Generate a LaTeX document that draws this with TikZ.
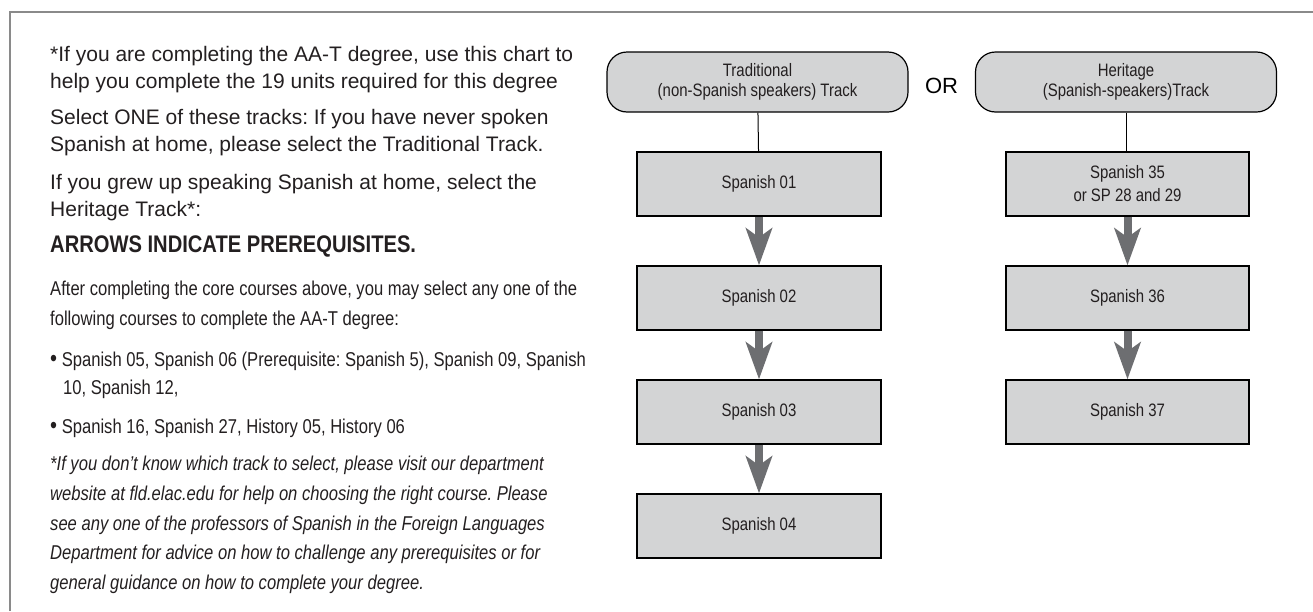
\documentclass[tikz,border=0pt]{standalone}
\usepackage{fontspec}
\setmainfont{Liberation Sans}
\newfontfamily\condf[FakeStretch=0.83]{Liberation Sans}
\newfontfamily\condbf[FakeStretch=0.84]{Liberation Sans}
\usetikzlibrary{arrows.meta}
\definecolor{framegray}{HTML}{8A8A8A}
\definecolor{boxgray}{HTML}{D3D4D5}
\definecolor{arrowgray}{HTML}{6D6E71}
\definecolor{ink}{HTML}{231F20}
\frenchspacing
\newcommand{\bigbul}{{\fontsize{24}{24}\selectfont\textbullet}}
\tikzset{
  regtxt/.style={anchor=base west, inner sep=0pt, text=ink, font=\fontsize{21}{24}\selectfont},
  condtxt/.style={anchor=base west, inner sep=0pt, text=ink, font=\condf\fontsize{20}{24}\selectfont},
  boldtxt/.style={anchor=base west, inner sep=0pt, text=ink, font=\condbf\bfseries\fontsize{24}{26}\selectfont},
  ittxt/.style={anchor=base west, inner sep=0pt, text=ink, font=\condf\itshape\fontsize{20}{24}\selectfont},
  trackbox/.style={draw=black, line width=1.2pt, fill=boxgray, rounded corners=20pt, minimum width=301pt, minimum height=60pt, inner sep=0pt, align=center, text=ink, font=\condf\fontsize{18}{20}\selectfont},
  coursebox/.style={draw=black, line width=1.2pt, fill=boxgray, minimum width=244pt, minimum height=64pt, inner sep=0pt, align=center, text=ink, font=\condf\fontsize{18}{23}\selectfont},
  link/.style={draw=black, line width=1pt},
  bigarrow/.style={draw=arrowgray, line width=8pt, -{Stealth[width=26pt,length=37pt,inset=9pt]}},
}
\begin{document}
\begin{tikzpicture}[x=1pt,y=-1pt]
\useasboundingbox (0,0) rectangle (1313,611);
\draw[framegray, line width=2pt] (10,611) -- (10,12) -- (1313,12);
% left text
\node[regtxt] (l1) at (50,61) {*If you are completing the AA-T degree, use this chart to};
\node[regtxt] (l2) at (50,88) {help you complete the 19 units required for this degree};
\node[regtxt] (l3) at (50,124) {Select ONE of these tracks: If you have never spoken};
\node[regtxt] (l4) at (50,151) {Spanish at home, please select the Traditional Track.};
\node[regtxt] (l5) at (50,189) {If you grew up speaking Spanish at home, select the};
\node[regtxt] (l6) at (50,216) {Heritage Track*:};
\node[boldtxt] (l7) at (50,252) {ARROWS INDICATE PREREQUISITES.};
\node[condtxt] (l8) at (50,295) {After completing the core courses above, you may select any one of the};
\node[condtxt] (l9) at (50,325) {following courses to complete the AA-T degree:};
\node[condtxt] (l10) at (50,366) {\bigbul\ Spanish 05, Spanish 06 (Prerequisite: Spanish 5), Spanish 09, Spanish};
\node[condtxt] (l11) at (63,394) {10, Spanish 12,};
\node[condtxt] (l12) at (50,433) {\bigbul\ Spanish 16, Spanish 27, History 05, History 06};
\node[ittxt] (l13) at (50,470) {*If you don’t know which track to select, please visit our department};
\node[ittxt] (l14) at (50,500) {website at fld.elac.edu for help on choosing the right course. Please};
\node[ittxt] (l15) at (50,530) {see any one of the professors of Spanish in the Foreign Languages};
\node[ittxt] (l16) at (50,559) {Department for advice on how to challenge any prerequisites or for};
\node[ittxt] (l17) at (50,589) {general guidance on how to complete your degree.};
% flowchart
\node[trackbox] (trad) at (757.5,82) {Traditional\\(non-Spanish speakers) Track};
\node[trackbox] (herit) at (1126,82) {Heritage\\(Spanish-speakers)Track};
\node[anchor=center, inner sep=0pt, text=black, font=\fontsize{22}{24}\selectfont] (or) at (941.5,86) {OR};
\node[coursebox] (s01) at (759,184) {Spanish 01};
\node[coursebox] (s02) at (759,298) {Spanish 02};
\node[coursebox] (s03) at (759,412) {Spanish 03};
\node[coursebox] (s04) at (759,526) {Spanish 04};
\node[coursebox, minimum width=243pt] (s35) at (1127.5,184) {Spanish 35\\or SP 28 and 29};
\node[coursebox, minimum width=243pt] (s36) at (1127.5,298) {Spanish 36};
\node[coursebox, minimum width=243pt] (s37) at (1127.5,412) {Spanish 37};
\draw[link] (trad) -- (s01);
\draw[link] (herit) -- (herit |- s35.north);
\draw[bigarrow] (s01) -- (s02);
\draw[bigarrow] (s02) -- (s03);
\draw[bigarrow] (s03) -- (s04);
\draw[bigarrow] (s35) -- (s36);
\draw[bigarrow] (s36) -- (s37);
\end{tikzpicture}
\end{document}
